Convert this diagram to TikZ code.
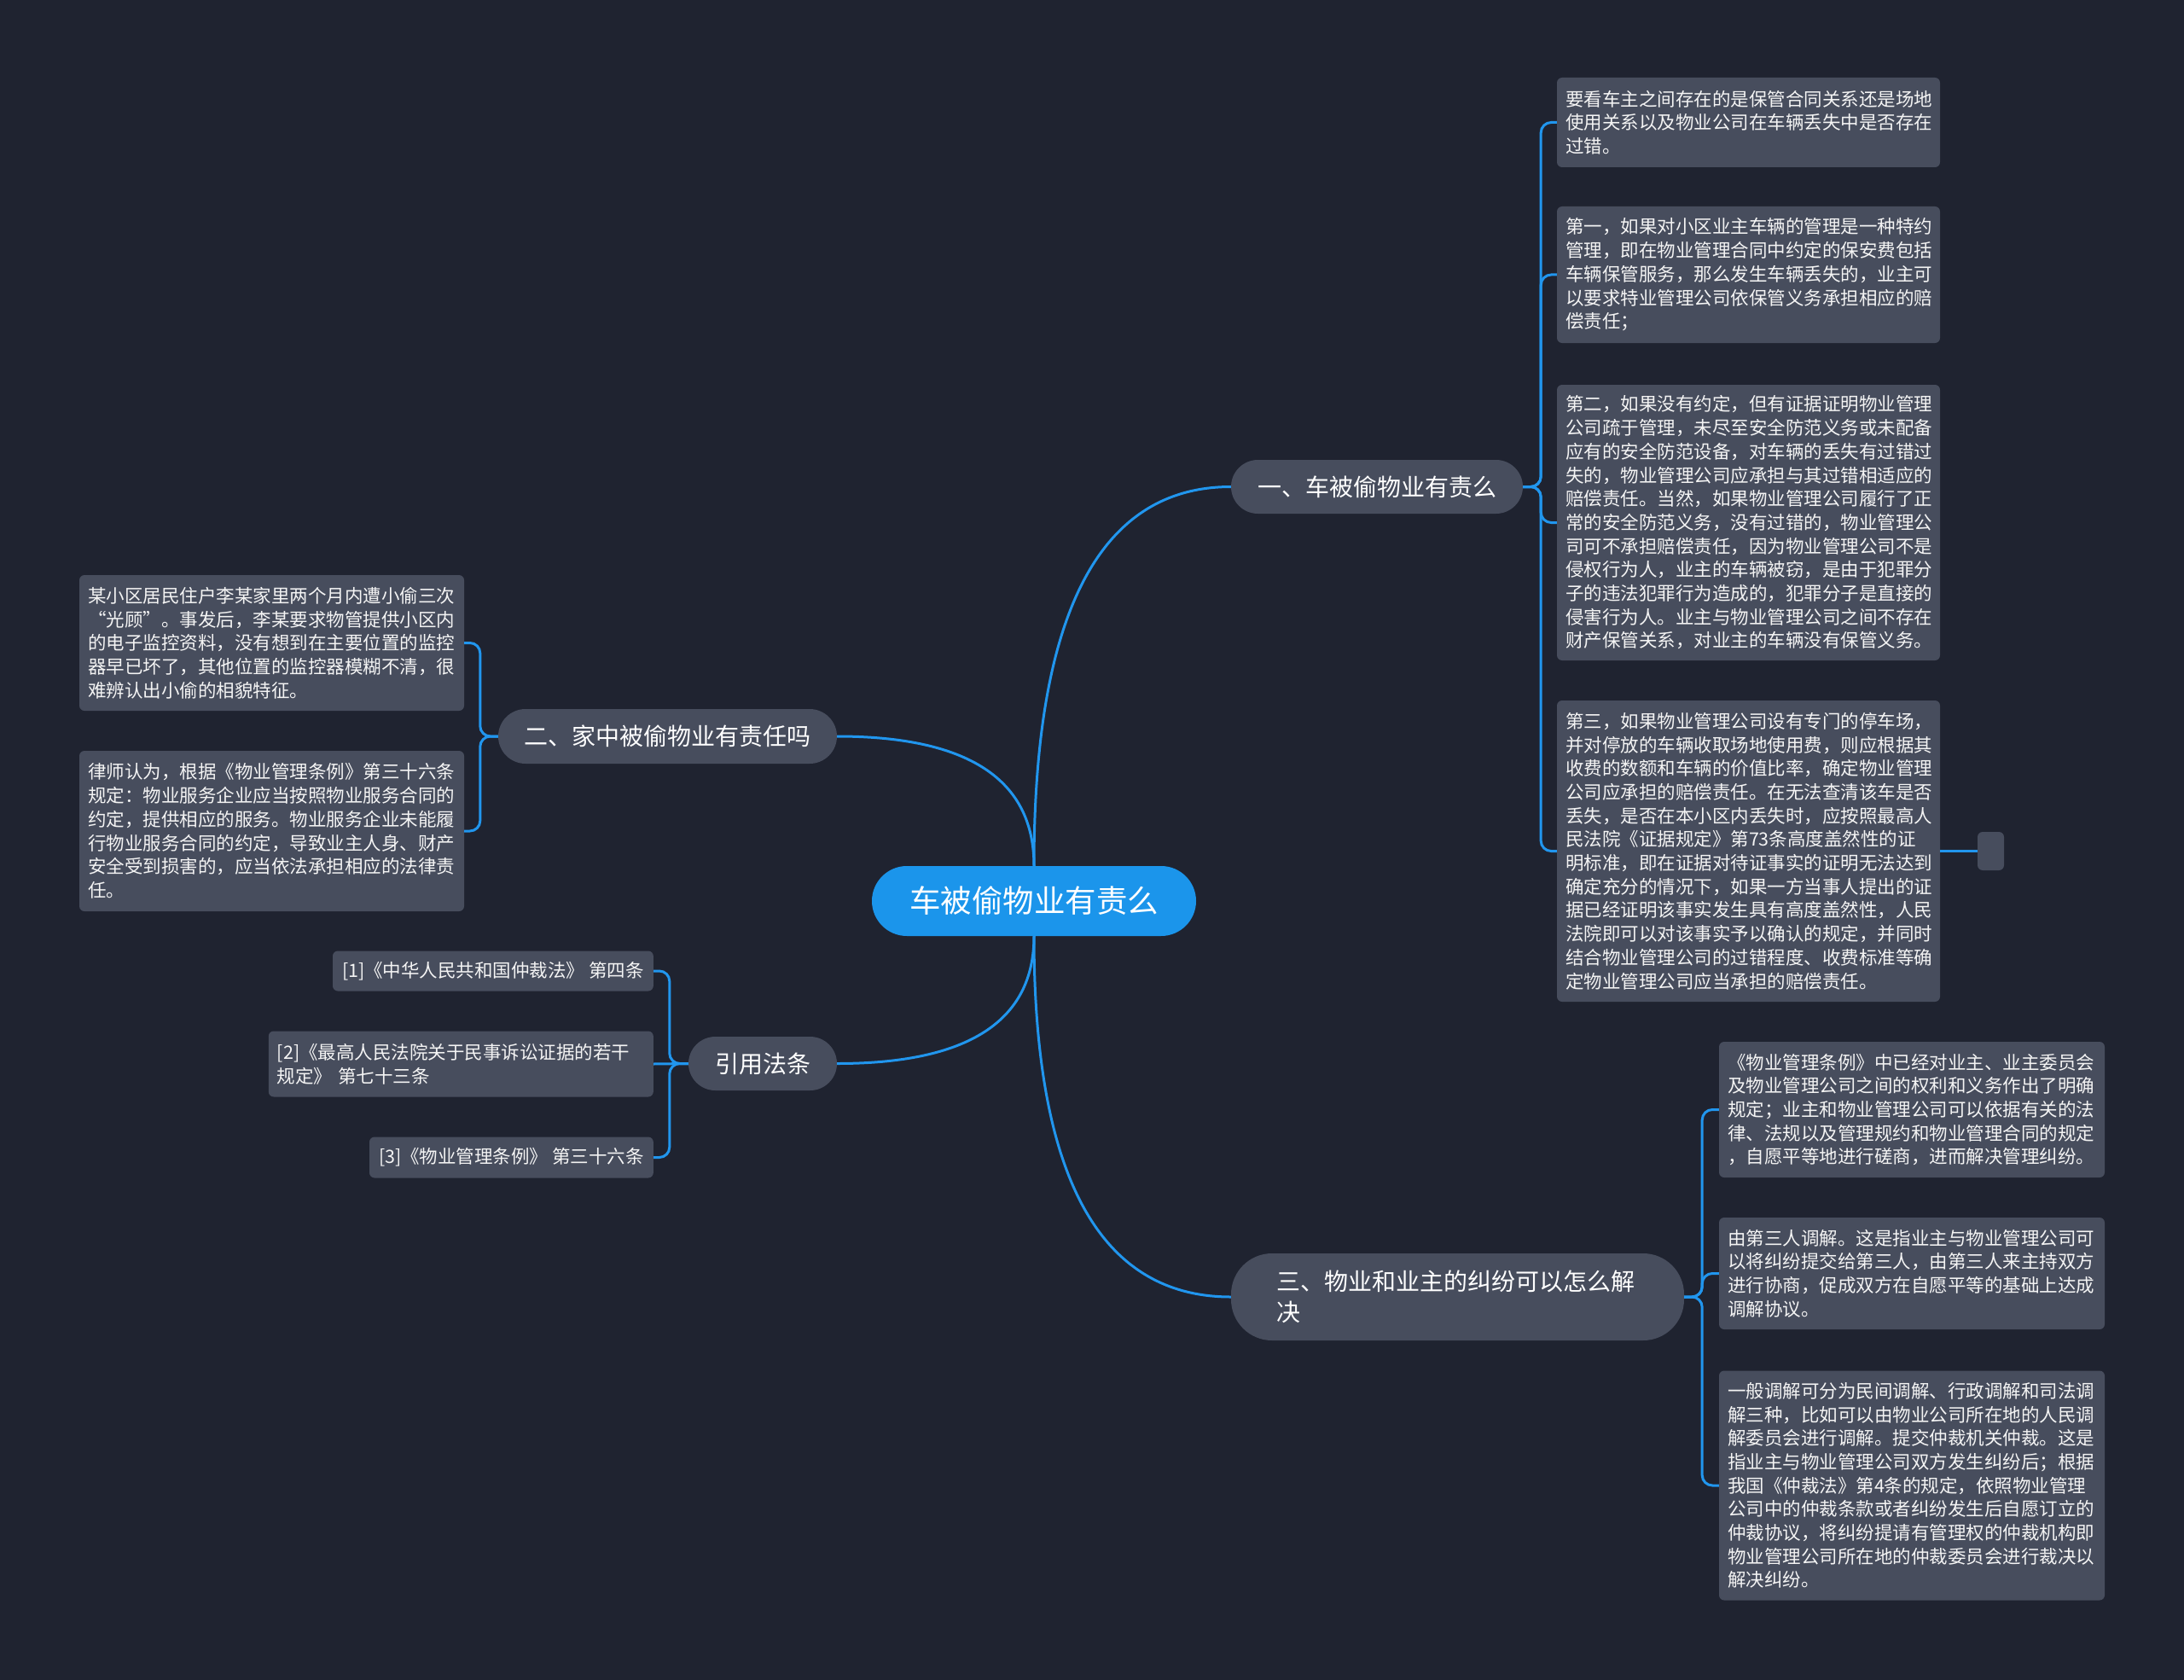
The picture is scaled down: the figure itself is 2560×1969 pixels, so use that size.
\documentclass[tikz,border=0pt]{standalone}
\usepackage{fontspec}
\setmainfont{Noto Sans CJK SC}
\usetikzlibrary{calc}
\definecolor{bgc}{HTML}{1F2330}
\definecolor{boxc}{HTML}{474D5D}
\definecolor{linec}{HTML}{2196EE}
\definecolor{rootc}{HTML}{1B95EB}
\definecolor{txtc}{HTML}{F4F4F4}
\newcommand\leaffont{\fontsize{21.5pt}{27.7pt}\selectfont}
\newcommand\branchfont{\fontsize{28pt}{36pt}\selectfont}
\newcommand\rootfont{\fontsize{36.5pt}{44pt}\selectfont}
\tikzset{
  leafbox/.style={fill=boxc, rounded corners=6pt, text=txtc, font=\leaffont, align=left,
    inner xsep=10pt, inner ysep=0pt},
  branchbox/.style={fill=boxc, text=white, font=\branchfont, inner sep=0pt, align=center},
  rootbox/.style={fill=rootc, text=white, font=\rootfont, inner sep=0pt,
    minimum width=380pt, minimum height=82pt, rounded corners=41pt},
  conn/.style={draw=linec, line width=3pt},
}
\begin{document}
\begin{tikzpicture}[x=1pt, y=-1pt]
\fill[bgc] (0,0) rectangle (2560,1969);
\useasboundingbox (0,0) rectangle (2560,1969);

% root
\node[rootbox] (root) at (1212,1056) {车被偷物业有责么};

% branches
\node[branchbox, minimum width=342pt, minimum height=63pt, rounded corners=31.5pt] (b1) at (1614,570.5) {一、车被偷物业有责么};
\node[branchbox, minimum width=397pt, minimum height=64pt, rounded corners=32pt] (b2) at (782.5,863) {二、家中被偷物业有责任吗};
\node[branchbox, minimum width=174pt, minimum height=63pt, rounded corners=31.5pt] (b3) at (894,1246.5) {引用法条};
\node[branchbox, minimum width=531pt, minimum height=102pt, rounded corners=48pt, text width=425pt, align=left] (b4) at (1708.5,1520) {三、物业和业主的纠纷可以怎么解\\决};

% leaves of b1
\node[leafbox, text width=429pt, minimum height=105pt] (L1) at (2049.5,143.5) {要看车主之间存在的是保管合同关系还是场地\\
使用关系以及物业公司在车辆丢失中是否存在\\
过错。};
\node[leafbox, text width=429pt, minimum height=160pt] (L2) at (2049.5,322) {第一，如果对小区业主车辆的管理是一种特约\\
管理，即在物业管理合同中约定的保安费包括\\
车辆保管服务，那么发生车辆丢失的，业主可\\
以要求特业管理公司依保管义务承担相应的赔\\
偿责任；};
\node[leafbox, text width=429pt, minimum height=323pt] (L3) at (2049.5,612.5) {第二，如果没有约定，但有证据证明物业管理\\
公司疏于管理，未尽至安全防范义务或未配备\\
应有的安全防范设备，对车辆的丢失有过错过\\
失的，物业管理公司应承担与其过错相适应的\\
赔偿责任。当然，如果物业管理公司履行了正\\
常的安全防范义务，没有过错的，物业管理公\\
司可不承担赔偿责任，因为物业管理公司不是\\
侵权行为人，业主的车辆被窃，是由于犯罪分\\
子的违法犯罪行为造成的，犯罪分子是直接的\\
侵害行为人。业主与物业管理公司之间不存在\\
财产保管关系，对业主的车辆没有保管义务。};
\node[leafbox, text width=429pt, minimum height=353pt] (L4) at (2049.5,997.5) {第三，如果物业管理公司设有专门的停车场，\\
并对停放的车辆收取场地使用费，则应根据其\\
收费的数额和车辆的价值比率，确定物业管理\\
公司应承担的赔偿责任。在无法查清该车是否\\
丢失，是否在本小区内丢失时，应按照最高人\\
民法院《证据规定》第73条高度盖然性的证\\
明标准，即在证据对待证事实的证明无法达到\\
确定充分的情况下，如果一方当事人提出的证\\
据已经证明该事实发生具有高度盖然性，人民\\
法院即可以对该事实予以确认的规定，并同时\\
结合物业管理公司的过错程度、收费标准等确\\
定物业管理公司应当承担的赔偿责任。};
\node[fill=boxc, rounded corners=6pt, minimum width=31pt, minimum height=45pt, inner sep=0pt] (sm) at (2333.5,997.5) {};

% leaves of b4
\node[leafbox, text width=432pt, minimum height=159pt] (R1) at (2241,1300.5) {《物业管理条例》中已经对业主、业主委员会\\
及物业管理公司之间的权利和义务作出了明确\\
规定；业主和物业管理公司可以依据有关的法\\
律、法规以及管理规约和物业管理合同的规定\\
，自愿平等地进行磋商，进而解决管理纠纷。};
\node[leafbox, text width=432pt, minimum height=131pt] (R2) at (2241,1492.5) {由第三人调解。这是指业主与物业管理公司可\\
以将纠纷提交给第三人，由第三人来主持双方\\
进行协商，促成双方在自愿平等的基础上达成\\
调解协议。};
\node[leafbox, text width=432pt, minimum height=269pt] (R3) at (2241,1741) {一般调解可分为民间调解、行政调解和司法调\\
解三种，比如可以由物业公司所在地的人民调\\
解委员会进行调解。提交仲裁机关仲裁。这是\\
指业主与物业管理公司双方发生纠纷后；根据\\
我国《仲裁法》第4条的规定，依照物业管理\\
公司中的仲裁条款或者纠纷发生后自愿订立的\\
仲裁协议，将纠纷提请有管理权的仲裁机构即\\
物业管理公司所在地的仲裁委员会进行裁决以\\
解决纠纷。};

% leaves of b2
\node[leafbox, text width=431pt, minimum height=159pt] (A1) at (318.5,753.5) {某小区居民住户李某家里两个月内遭小偷三次\\
“光顾”。事发后，李某要求物管提供小区内\\
的电子监控资料，没有想到在主要位置的监控\\
器早已坏了，其他位置的监控器模糊不清，很\\
难辨认出小偷的相貌特征。};
\node[leafbox, text width=431pt, minimum height=188pt] (A2) at (318.5,974) {律师认为，根据《物业管理条例》第三十六条\\
规定：物业服务企业应当按照物业服务合同的\\
约定，提供相应的服务。物业服务企业未能履\\
行物业服务合同的约定，导致业主人身、财产\\
安全受到损害的，应当依法承担相应的法律责\\
任。};

% leaves of b3
\node[leafbox, minimum height=47pt, anchor=east, inner xsep=11pt] (C1) at (766,1138) {[1]《中华人民共和国仲裁法》 第四条};
\node[leafbox, text width=431pt, minimum height=77pt, anchor=east] (C2) at (766,1247) {[2]《最高人民法院关于民事诉讼证据的若干\\
规定》 第七十三条};
\node[leafbox, minimum height=48pt, anchor=east, inner xsep=11pt] (C3) at (766,1356.5) {[3]《物业管理条例》 第三十六条};

% root connectors (quadratic-like curves)
\coordinate (q1) at (root.north |- b1.west);
\coordinate (q2) at (root.north |- b2.east);
\coordinate (q3) at (root.south |- b3.east);
\coordinate (q4) at (root.south |- b4.west);
\draw[conn] (root.north) .. controls ($(root.north)!0.6667!(q1)$) and ($(b1.west)!0.6667!(q1)$) .. (b1.west);
\draw[conn] (root.north) .. controls ($(root.north)!0.6667!(q2)$) and ($(b2.east)!0.6667!(q2)$) .. (b2.east);
\draw[conn] (root.south) .. controls ($(root.south)!0.6667!(q3)$) and ($(b3.east)!0.6667!(q3)$) .. (b3.east);
\draw[conn] (root.south) .. controls ($(root.south)!0.6667!(q4)$) and ($(b4.west)!0.6667!(q4)$) .. (b4.west);

% bracket connectors
\coordinate (j1) at ($(b1.east)+(21,0)$);
\coordinate (j2) at ($(b2.west)+(-21,0)$);
\coordinate (j3) at ($(b3.west)+(-22,0)$);
\coordinate (j4) at ($(b4.east)+(21,0)$);
\foreach \n in {L1,L2,L3,L4}{
  \draw[conn, rounded corners=12pt] (b1.east) -- (j1) |- (\n.west);
}
\foreach \n in {A1,A2}{
  \draw[conn, rounded corners=12pt] (b2.west) -- (j2) |- (\n.east);
}
\foreach \n in {C1,C3}{
  \draw[conn, rounded corners=12pt] (b3.west) -- (j3) |- (\n.east);
}
\draw[conn] (b3.west) -- (C2.east);
\foreach \n in {R1,R2,R3}{
  \draw[conn, rounded corners=12pt] (b4.east) -- (j4) |- (\n.west);
}
\draw[conn] (L4.east) -- (sm.west);
\end{tikzpicture}
\end{document}
